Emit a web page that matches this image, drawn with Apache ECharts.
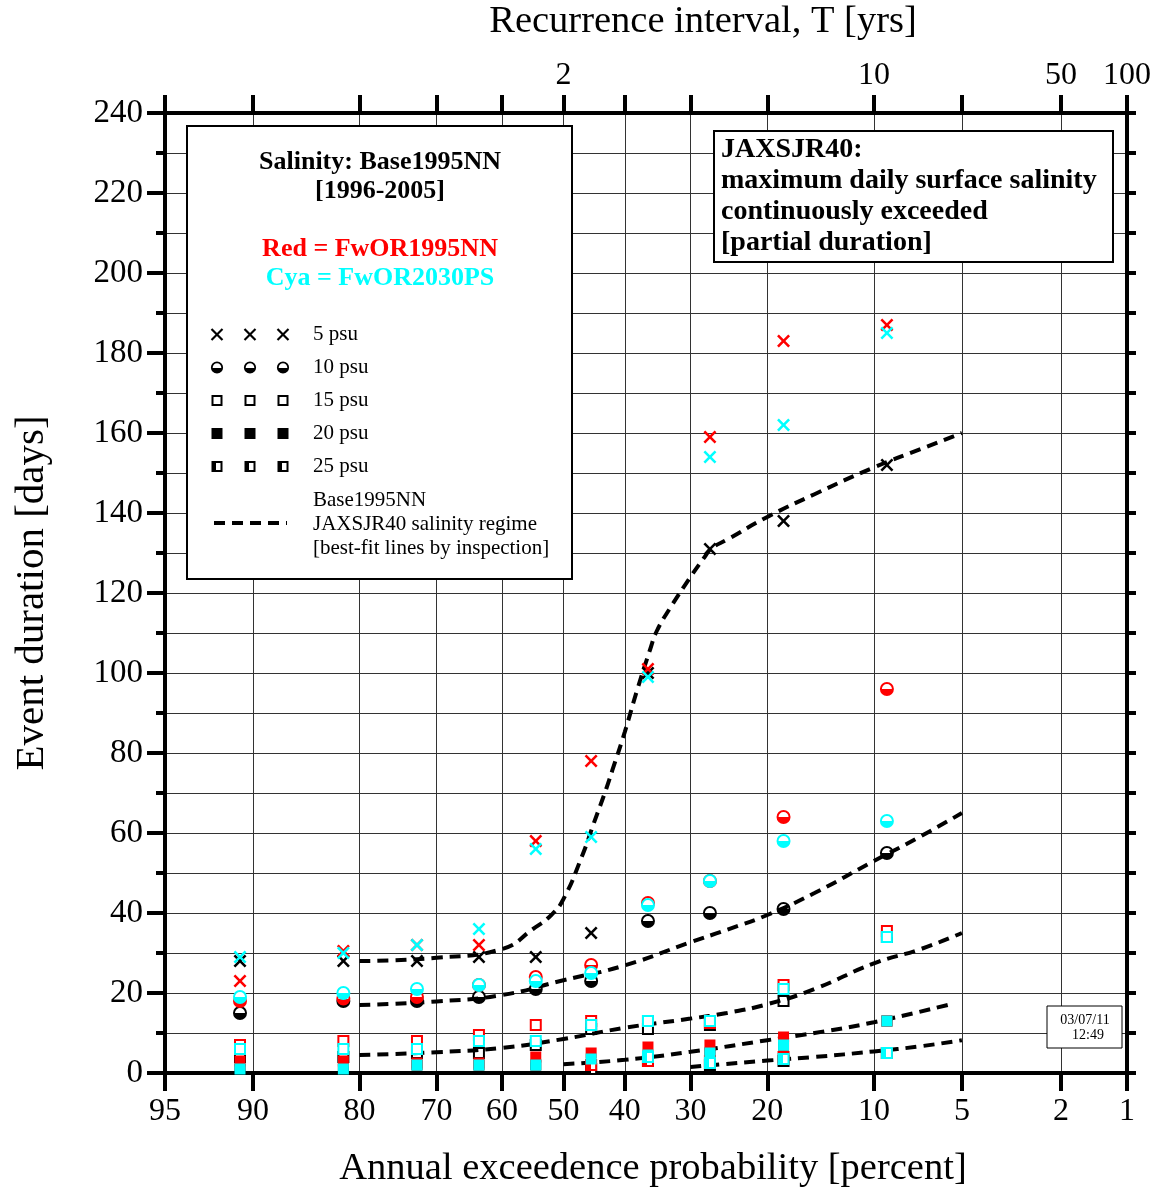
<!DOCTYPE html>
<html>
<head>
<meta charset="utf-8">
<title>JAXSJR40 salinity event duration</title>
<script src="https://cdn.jsdelivr.net/npm/echarts@6/dist/echarts.min.js"></script>
<style>
  html, body { margin: 0; padding: 0; background: #fff; }
  #chart { width: 1155px; height: 1191px; }
</style>
</head>
<body>
<div id="chart"></div>
<script>
// plotting positions of the ten ranked events (annual exceedence probability, percent)
const probs = [90.91, 81.82, 72.73, 63.64, 54.55, 45.45, 36.36, 27.27, 18.18, 9.09];

// event durations [days] - Base1995NN (black)
const base5  = [28, 28, 28, 29, 29, 35, 100, 131, 138, 152];
const base10 = [15, 18, 18, 19, 21, 23, 38, 40, 41, 55];
const base15 = [4, 4, 5, 5, 7, 11, 11, 12, 18, 34];
const base20 = [1, 1, 2, 2, 2, 2, 4, 5, 7, 13];
const base25 = [null, null, null, null, null, 1, 3, 2, 3, 5];

// FwOR1995NN (red)
const red5  = [23, 30.5, 32, 32, 58, 78, 101, 159, 183, 187];
const red10 = [18, 18.6, 19, 22, 24, 27, 42.5, 48, 64, 96];
const red15 = [7, 8, 8, 9.5, 12, 13, 13, 12.5, 22, 35.5];
const red20 = [3, 3, 2.5, 2.5, 4, 5, 6.5, 7, 9, 13];
const red25 = [null, null, null, null, null, 2, 3, 3, 4, 5];

// FwOR2030PS (cyan)
const cya5  = [29, 30, 32, 36, 56, 59, 99, 154, 162, 185];
const cya10 = [19, 20, 21, 22, 23, 25, 42, 48, 58, 63];
const cya15 = [6, 6, 6, 8, 8, 12, 13, 13, 21, 34];
const cya20 = [1, 1, 2, 2, 2, 3.5, 4.5, 5, 7, 13];
const cya25 = [null, null, null, null, null, null, 4, 2.5, 3.5, 5];

// best-fit lines by inspection (probability percent, days)
const fit5P  = [80, 70, 60, 55, 52, 50, 47, 45, 43, 42, 40, 38, 36, 35, 33, 30, 28, 27, 25, 20, 15, 10, 7, 5];
const fit5D  = [28, 28.8, 31, 36, 39.5, 43.5, 54, 62.5, 71, 75.7, 85.3, 96, 106, 110.5, 116.2, 124, 129, 131.2, 133.3, 139, 144.7, 151.4, 156, 160];
const fit10P = [80, 70, 60, 50, 40, 30, 25, 20, 15, 10, 7, 5];
const fit10D = [17, 17.9, 19.5, 23.2, 26.9, 32.7, 35.8, 39.5, 45, 53, 59.2, 65];
const fit15P = [80, 70, 60, 50, 40, 30, 25, 20, 15, 10, 7, 5];
const fit15D = [4.5, 5.2, 6.3, 8.5, 11.3, 13.6, 15, 17.2, 21, 27.4, 31, 35];
const fit20P = [50, 40, 30, 20, 15, 10, 5.5];
const fit20D = [2.2, 3.3, 5.3, 8.2, 10, 12.7, 17.2];
const fit25P = [30, 20, 15, 10, 7, 5];
const fit25D = [1.5, 3.1, 4, 5.4, 6.7, 8.2];

// axis ticks
const probTicks  = [95, 90, 80, 70, 60, 50, 40, 30, 20, 10, 5, 2, 1];
const probLabels = ['95', '90', '80', '70', '60', '50', '40', '30', '20', '10', '5', '2', '1'];
const recurTicks  = [50, 10, 2, 1];
const recurLabels = ['2', '10', '50', '100'];
const psuLabels = ['5 psu', '10 psu', '15 psu', '20 psu', '25 psu'];

const FONT = '"Liberation Serif", "Times New Roman", serif';

// inverse standard normal (Acklam) -> probability paper scale
function normInv(p) {
  const a = [-3.969683028665376e+01, 2.209460984245205e+02, -2.759285104469687e+02, 1.383577518672690e+02, -3.066479806614716e+01, 2.506628277459239e+00];
  const b = [-5.447609879822406e+01, 1.615858368580409e+02, -1.556989798598866e+02, 6.680131188771972e+01, -1.328068155286116e+01];
  const c = [-7.784894002430293e-03, -3.223964580411365e-01, -2.400758277161838e+00, -2.549732539343734e+00, 4.374664141464968e+00, 2.938163982698783e+00];
  const d = [7.784695709041462e-03, 3.224671290700398e-01, 2.445134137142996e+00, 3.754408661907416e+00];
  const pl = 0.02425;
  let q, r;
  if (p < pl) {
    q = Math.sqrt(-2 * Math.log(p));
    return (((((c[0] * q + c[1]) * q + c[2]) * q + c[3]) * q + c[4]) * q + c[5]) / ((((d[0] * q + d[1]) * q + d[2]) * q + d[3]) * q + 1);
  }
  if (p > 1 - pl) {
    q = Math.sqrt(-2 * Math.log(1 - p));
    return -(((((c[0] * q + c[1]) * q + c[2]) * q + c[3]) * q + c[4]) * q + c[5]) / ((((d[0] * q + d[1]) * q + d[2]) * q + d[3]) * q + 1);
  }
  q = p - 0.5; r = q * q;
  return (((((a[0] * r + a[1]) * r + a[2]) * r + a[3]) * r + a[4]) * r + a[5]) * q / (((((b[0] * r + b[1]) * r + b[2]) * r + b[3]) * r + b[4]) * r + 1);
}
const zOf = pct => normInv(1 - pct / 100);

function labelFor(v, ticks, labels) {
  const i = ticks.findIndex(t => Math.abs(zOf(t) - v) < 1e-6);
  return i < 0 ? '' : labels[i];
}

const X_PATH = 'path://M0,1.4 L1.4,0 L5,3.6 L8.6,0 L10,1.4 L6.4,5 L10,8.6 L8.6,10 L5,6.4 L1.4,10 L0,8.6 L3.6,5 Z';
const halfV = c => new echarts.graphic.LinearGradient(0, 0, 0, 1, [
  { offset: 0, color: '#fff' }, { offset: 0.5, color: '#fff' }, { offset: 0.5, color: c }, { offset: 1, color: c }]);
const halfH = c => new echarts.graphic.LinearGradient(0, 0, 1, 0, [
  { offset: 0, color: c }, { offset: 0.45, color: c }, { offset: 0.45, color: '#fff' }, { offset: 1, color: '#fff' }]);

// marker style for each salinity threshold
const markerStyles = [
  c => ({ symbol: X_PATH, symbolSize: 13, itemStyle: { color: c, opacity: 1 } }),
  c => ({ symbol: 'circle', symbolSize: 12, itemStyle: { color: halfV(c), borderColor: c, borderWidth: 2, opacity: 1 } }),
  c => ({ symbol: 'rect', symbolSize: 10, itemStyle: { color: '#fff', borderColor: c, borderWidth: 2, opacity: 1 } }),
  c => ({ symbol: 'rect', symbolSize: 11, itemStyle: { color: c, opacity: 1 } }),
  c => ({ symbol: 'rect', symbolSize: 10, itemStyle: { color: halfH(c), borderColor: c, borderWidth: 2, opacity: 1 } })
];

const groups = [
  { name: 'Base1995NN', color: '#000000', sets: [base5, base10, base15, base20, base25] },
  { name: 'FwOR1995NN', color: '#ff0000', sets: [red5, red10, red15, red20, red25] },
  { name: 'FwOR2030PS', color: '#00ffff', sets: [cya5, cya10, cya15, cya20, cya25] }
];
const fits = [[fit5P, fit5D], [fit10P, fit10D], [fit15P, fit15D], [fit20P, fit20D], [fit25P, fit25D]];

function scatterSeries(g, z) {
  return g.sets.map((vals, k) => Object.assign({
    name: g.name + ' ' + psuLabels[k],
    type: 'scatter',
    z: z,
    data: probs.map((p, i) => vals[i] == null ? null : [zOf(p), vals[i]]).filter(Boolean)
  }, markerStyles[k](g.color)));
}

const series = [].concat(
  scatterSeries(groups[0], 3),
  fits.map(([ps, ds], k) => ({
    name: 'fit ' + psuLabels[k],
    type: 'line',
    z: 4,
    smooth: 0.5,
    symbol: 'none',
    data: ps.map((p, i) => [zOf(p), ds[i]]),
    lineStyle: { color: '#000', width: 4, type: [11, 7] }
  })),
  scatterSeries(groups[1], 5),
  scatterSeries(groups[2], 6)
);

// legend / annotation boxes
const graphics = [];
graphics.push({ type: 'rect', z: 50, shape: { x: 187, y: 126, width: 385, height: 453 }, style: { fill: '#fff', stroke: '#000', lineWidth: 2 } });
[['Salinity: Base1995NN', 162, '#000'], ['[1996-2005]', 191, '#000'], ['Red = FwOR1995NN', 249, '#ff0000'], ['Cya = FwOR2030PS', 278, '#00ffff']]
  .forEach(([t, y, c]) => graphics.push({ type: 'text', z: 51, x: 380, y: y, style: { text: t, fill: c, font: 'bold 26px ' + FONT, textAlign: 'center', textVerticalAlign: 'middle' } }));

const symX = [217, 250, 283];
psuLabels.forEach((lab, r) => {
  const y = 334.5 + r * 33;
  symX.forEach(x => {
    if (r === 0) {
      graphics.push({ type: 'line', z: 51, shape: { x1: x - 5.5, y1: y - 5.5, x2: x + 5.5, y2: y + 5.5 }, style: { stroke: '#000', lineWidth: 2.2 } });
      graphics.push({ type: 'line', z: 51, shape: { x1: x - 5.5, y1: y + 5.5, x2: x + 5.5, y2: y - 5.5 }, style: { stroke: '#000', lineWidth: 2.2 } });
    } else if (r === 1) {
      graphics.push({ type: 'circle', z: 51, shape: { cx: x, cy: y, r: 5.2 }, style: { fill: halfV('#000'), stroke: '#000', lineWidth: 1.8 } });
    } else if (r === 2) {
      graphics.push({ type: 'rect', z: 51, shape: { x: x - 4.5, y: y - 4.5, width: 9, height: 9 }, style: { fill: '#fff', stroke: '#000', lineWidth: 2 } });
    } else if (r === 3) {
      graphics.push({ type: 'rect', z: 51, shape: { x: x - 5.5, y: y - 5.5, width: 11, height: 11 }, style: { fill: '#000' } });
    } else {
      graphics.push({ type: 'rect', z: 51, shape: { x: x - 4.5, y: y - 4.5, width: 9, height: 9 }, style: { fill: halfH('#000'), stroke: '#000', lineWidth: 2 } });
    }
  });
  graphics.push({ type: 'text', z: 51, x: 313, y: y, style: { text: lab, fill: '#000', font: '21px ' + FONT, textVerticalAlign: 'middle' } });
});
graphics.push({ type: 'line', z: 51, shape: { x1: 214, y1: 523, x2: 287, y2: 523 }, style: { stroke: '#000', lineWidth: 4, lineDash: [11, 7] } });
[['Base1995NN', 500], ['JAXSJR40 salinity regime', 524], ['[best-fit lines by inspection]', 548]]
  .forEach(([t, y]) => graphics.push({ type: 'text', z: 51, x: 313, y: y, style: { text: t, fill: '#000', font: '21px ' + FONT, textVerticalAlign: 'middle' } }));

graphics.push({ type: 'rect', z: 50, shape: { x: 714, y: 131, width: 399, height: 131 }, style: { fill: '#fff', stroke: '#000', lineWidth: 2 } });
[['JAXSJR40:', 150], ['maximum daily surface salinity', 181], ['continuously exceeded', 212], ['[partial duration]', 243]]
  .forEach(([t, y]) => graphics.push({ type: 'text', z: 51, x: 721, y: y, style: { text: t, fill: '#000', font: 'bold 28px ' + FONT, textVerticalAlign: 'middle' } }));

graphics.push({ type: 'rect', z: 50, shape: { x: 1047, y: 1006, width: 75, height: 42 }, style: { fill: '#fff', stroke: '#000', lineWidth: 1 } });
graphics.push({ type: 'text', z: 51, x: 1085, y: 1020, style: { text: '03/07/11', fill: '#000', font: '14px ' + FONT, textAlign: 'center', textVerticalAlign: 'middle' } });
graphics.push({ type: 'text', z: 51, x: 1088, y: 1035, style: { text: '12:49', fill: '#000', font: '14px ' + FONT, textAlign: 'center', textVerticalAlign: 'middle' } });

const axisLine = { onZero: false, lineStyle: { color: '#000', width: 4 } };
const tickStyle = { color: '#000', width: 4 };
const gridLine = { show: true, lineStyle: { color: '#333', width: 1 } };
const xMin = zOf(95), xMax = zOf(1);

const chart = echarts.init(document.getElementById('chart'), null, { renderer: 'canvas' });
chart.setOption({
  animation: false,
  backgroundColor: '#fff',
  textStyle: { fontFamily: FONT },
  grid: { left: 165, right: 28, top: 113, bottom: 118, outerBoundsMode: 'none' },
  xAxis: [
    {
      type: 'value', position: 'bottom', min: xMin, max: xMax,
      name: 'Annual exceedence probability [percent]', nameLocation: 'middle', nameGap: 76,
      nameTextStyle: { fontFamily: FONT, fontSize: 38.5, color: '#000', padding: [0, 0, 0, 14] },
      axisLine: axisLine,
      axisTick: { customValues: probTicks.map(zOf), length: 18, lineStyle: tickStyle },
      axisLabel: { customValues: probTicks.map(zOf), formatter: v => labelFor(v, probTicks, probLabels), fontFamily: FONT, fontSize: 32, color: '#000', margin: 23 },
      splitLine: gridLine
    },
    {
      type: 'value', position: 'top', min: xMin, max: xMax,
      name: 'Recurrence interval, T [yrs]', nameLocation: 'middle', nameGap: 72,
      nameTextStyle: { fontFamily: FONT, fontSize: 38.5, color: '#000', padding: [0, 0, 0, 114] },
      axisLine: axisLine,
      axisTick: { customValues: probTicks.map(zOf), length: 18, lineStyle: tickStyle },
      axisLabel: { customValues: recurTicks.map(zOf), formatter: v => labelFor(v, recurTicks, recurLabels), fontFamily: FONT, fontSize: 32, color: '#000', margin: 21 },
      splitLine: { show: false }
    }
  ],
  yAxis: [
    {
      type: 'value', position: 'left', min: 0, max: 240, interval: 20,
      name: 'Event duration [days]', nameLocation: 'middle', nameGap: 112,
      nameTextStyle: { fontFamily: FONT, fontSize: 41, color: '#000' },
      axisLine: axisLine,
      axisTick: { length: 18, lineStyle: tickStyle },
      minorTick: { show: true, splitNumber: 2, length: 9, lineStyle: tickStyle },
      axisLabel: { fontFamily: FONT, fontSize: 33, color: '#000', margin: 22 },
      splitLine: gridLine,
      minorSplitLine: gridLine
    },
    {
      type: 'value', position: 'right', min: 0, max: 240, interval: 20,
      axisLine: axisLine,
      axisTick: { length: 9, lineStyle: tickStyle },
      minorTick: { show: true, splitNumber: 2, length: 9, lineStyle: tickStyle },
      axisLabel: { show: false },
      splitLine: { show: false }
    }
  ],
  graphic: graphics,
  series: series
});
window.addEventListener('resize', () => chart.resize());
</script>
</body>
</html>
